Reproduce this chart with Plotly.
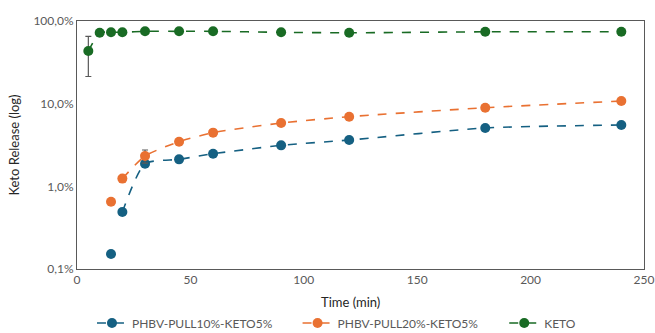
import plotly.graph_objects as go

time_min = [5, 10, 15, 20, 30, 45, 60, 90, 120, 180, 240]
time_pull = [15, 20, 30, 45, 60, 90, 120, 180, 240]

pull10 = [0.152, 0.49, 1.88, 2.12, 2.48, 3.13, 3.63, 5.08, 5.52]
pull20 = [0.65, 1.24, 2.33, 3.47, 4.46, 5.83, 6.96, 8.93, 10.76]
pull20_err = [0, 0, 0.42, 0, 0, 0, 0, 0, 0]
keto = [43.3, 72, 73, 73, 75, 75, 75, 73, 72, 74, 74]
keto_err = [22, 0, 0, 0, 0, 0, 0, 0, 0, 0, 0]

y_tickvals = [0.1, 1, 10, 100]
y_ticktext = ["0,1%", "1,0%", "10,0%", "100,0%"]
x_tickvals = [0, 50, 100, 150, 200, 250]

names = ["PHBV-PULL10%-KETO5%", "PHBV-PULL20%-KETO5%", "KETO"]
colors = ["#156082", "#E97132", "#196B24"]
legend_ids = ["legend", "legend2", "legend3"]
legend_x = [0.0264, 0.389, 0.7535]

fig = go.Figure()

def add(x, y, name, color, leg, err=None, first_unlinked=False):
    start = 1 if first_unlinked else 0
    if first_unlinked:
        fig.add_trace(go.Scatter(
            x=x[:1], y=y[:1], name=name, mode="markers", legend=leg, showlegend=False,
            marker=dict(color=color, size=10, symbol="circle"),
            error_y=dict(type="data", array=err[:1], visible=True, color="#595959",
                         thickness=1.2, width=3) if err else None,
        ))
    fig.add_trace(go.Scatter(
        x=x[start:], y=y[start:], name=name, mode="lines+markers", legend=leg,
        line=dict(color=color, width=1.6, dash="dash", shape="spline", smoothing=0.6),
        marker=dict(color=color, size=10, symbol="circle"),
        error_y=dict(type="data", array=err[start:], visible=True, color="#595959",
                     thickness=1.2, width=3) if err else None,
    ))

add(time_pull, pull10, names[0], colors[0], legend_ids[0], first_unlinked=True)
add(time_pull, pull20, names[1], colors[1], legend_ids[1], pull20_err, first_unlinked=True)
add(time_min, keto, names[2], colors[2], legend_ids[2], keto_err)

font = "Lato"
legend_common = dict(orientation="h", xanchor="left", y=-0.218, yanchor="middle",
                     font=dict(size=12, color="#595959"), bgcolor="rgba(0,0,0,0)")
fig.update_layout(
    width=655, height=333,
    margin=dict(l=77, r=11, t=21, b=64, autoexpand=False),
    paper_bgcolor="white", plot_bgcolor="white",
    font=dict(family=font, size=12, color="#595959"),
    showlegend=True,
    legend=dict(x=legend_x[0], **legend_common),
    legend2=dict(x=legend_x[1], **legend_common),
    legend3=dict(x=legend_x[2], **legend_common),
    annotations=[dict(text="Time (min)", xref="paper", yref="paper", x=0.482, y=-0.133,
                      xanchor="center", yanchor="middle", showarrow=False,
                      font=dict(size=13, color="#262626"))],
)
fig.update_xaxes(
    range=[0, 250], tickvals=x_tickvals, showgrid=False, zeroline=False,
    showline=True, mirror=True, linecolor="#595959", linewidth=1,
    ticks="", tickfont=dict(size=12, color="#595959"), ticklabeloverflow="allow",
)
fig.update_yaxes(
    type="log", range=[-1, 2], tickvals=y_tickvals, ticktext=y_ticktext,
    showgrid=False, zeroline=False,
    showline=True, mirror=True, linecolor="#595959", linewidth=1,
    ticks="", tickfont=dict(size=12, color="#595959"),
    title=dict(text="Keto Release (log)", font=dict(size=13, color="#262626"), standoff=10),
)

fig.write_html("out.html", config={"displayModeBar": False},
               post_script="document.body.style.margin='0';")
